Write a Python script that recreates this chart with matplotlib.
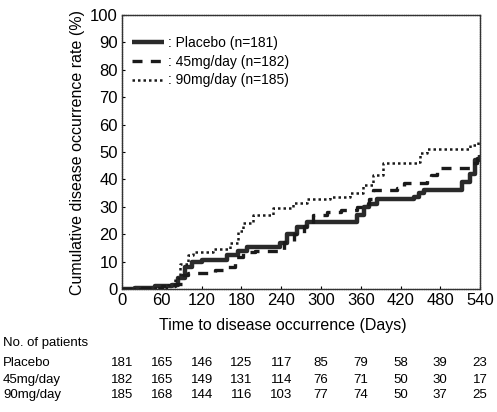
import numpy as np
import matplotlib
matplotlib.use("Agg")
import matplotlib.pyplot as plt
from matplotlib.transforms import blended_transform_factory

plt.rcParams['font.family'] = ['Liberation Sans', 'DejaVu Sans']

# step curves: (day, cumulative %) breakpoints
placebo_days = [0, 20, 50, 75, 85, 95, 105, 120, 158, 175, 188, 215, 238, 249, 264, 279,
                300, 345, 355, 365, 372, 384, 440, 448, 455, 505, 513, 525, 533, 540]
placebo_pct = [0, 0.5, 1, 1.5, 4, 8, 10, 10.5, 12.4, 14, 15.3, 15.3, 16.8, 20, 22.6, 24.5,
               24.5, 24.5, 27, 30, 31, 33, 33.5, 35, 36, 36, 39, 42, 47, 49]

mg45_days = [0, 30, 60, 80, 90, 100, 140, 158, 170, 182, 200, 225, 245, 260, 275, 288,
             309, 330, 355, 365, 372, 379, 415, 425, 460, 466, 475, 525, 535, 540]
mg45_pct = [0, 0.5, 1, 2, 5, 6, 7, 8, 11.7, 13.5, 14, 14, 17, 20, 23, 27,
            28, 29, 30, 31, 33, 36, 37, 38.7, 40, 41.6, 44, 46, 48, 50]

mg90_days = [0, 40, 70, 80, 87, 100, 107, 137, 163, 175, 182, 198, 228, 258, 279, 314,
             344, 364, 379, 394, 445, 449, 460, 525, 537, 540]
mg90_pct = [0, 0.5, 1.5, 4, 9, 12.5, 13.5, 14.5, 16.8, 21, 24, 27, 29.6, 31.4, 33, 33.6,
            35, 38, 41.6, 46, 46.5, 49.6, 51, 52.5, 54, 54]

series_labels = [": Placebo (n=181)", ": 45mg/day (n=182)", ": 90mg/day (n=185)"]

x_ticks = [0, 60, 120, 180, 240, 300, 360, 420, 480, 540]
y_ticks = [0, 10, 20, 30, 40, 50, 60, 70, 80, 90, 100]

row_names = ["Placebo", "45mg/day", "90mg/day"]
at_risk = [
    [181, 165, 146, 125, 117, 85, 79, 58, 39, 23],
    [182, 165, 149, 131, 114, 76, 71, 50, 30, 17],
    [185, 168, 144, 116, 103, 77, 74, 50, 37, 25],
]

fig = plt.figure(figsize=(4.97, 4.12), dpi=100)
ax = fig.add_axes([0.2455, 0.2985, 0.7205, 0.665])

ax.step(placebo_days, placebo_pct, where='post', color='#2a2a2a', lw=3.2,
        solid_capstyle='butt', label=series_labels[0], zorder=3)
ax.step(mg45_days, mg45_pct, where='post', color='#1a1a1a', lw=2.4,
        linestyle=(0, (3, 2.5)), label=series_labels[1], zorder=3)
ax.step(mg90_days, mg90_pct, where='post', color='#1a1a1a', lw=1.8,
        linestyle=(0, (1, 1.2)), label=series_labels[2], zorder=3)

ax.set_xlim(0, 540)
ax.set_ylim(0, 100)
ax.set_xticks(x_ticks)
ax.set_yticks(y_ticks)
ax.tick_params(axis='both', labelsize=12, direction='in', length=2, width=0.8, pad=3)
for sp in ax.spines.values():
    sp.set_linewidth(1.0)
    sp.set_linestyle((0, (1, 0.6)))
    sp.set_color('#333333')

ax.set_ylabel("Cumulative disease occurrence rate (%)", fontsize=11.5, labelpad=4)
ax.set_xlabel("Time to disease occurrence (Days)", fontsize=11.5, labelpad=4)
ax.xaxis.set_label_coords(0.45, -0.105)

ax.legend(loc='upper left', bbox_to_anchor=(0.0, 0.96), frameon=False, fontsize=10,
          handlelength=2.3, handletextpad=0.3, labelspacing=0.35, borderaxespad=0.3)

tr = blended_transform_factory(ax.transData, fig.transFigure)
fig.text(0.006, 0.1675, "No. of patients", fontsize=9.5, va='center', ha='left')
row_y = [0.119, 0.078, 0.041]
for name, counts, yy in zip(row_names, at_risk, row_y):
    fig.text(0.006, yy, name, fontsize=9.5, va='center', ha='left')
    for xt, c in zip(x_ticks, counts):
        ax.text(xt, yy, str(c), transform=tr, fontsize=9.5, va='center', ha='center',
                clip_on=False)

fig.savefig("out.png", dpi=100)
